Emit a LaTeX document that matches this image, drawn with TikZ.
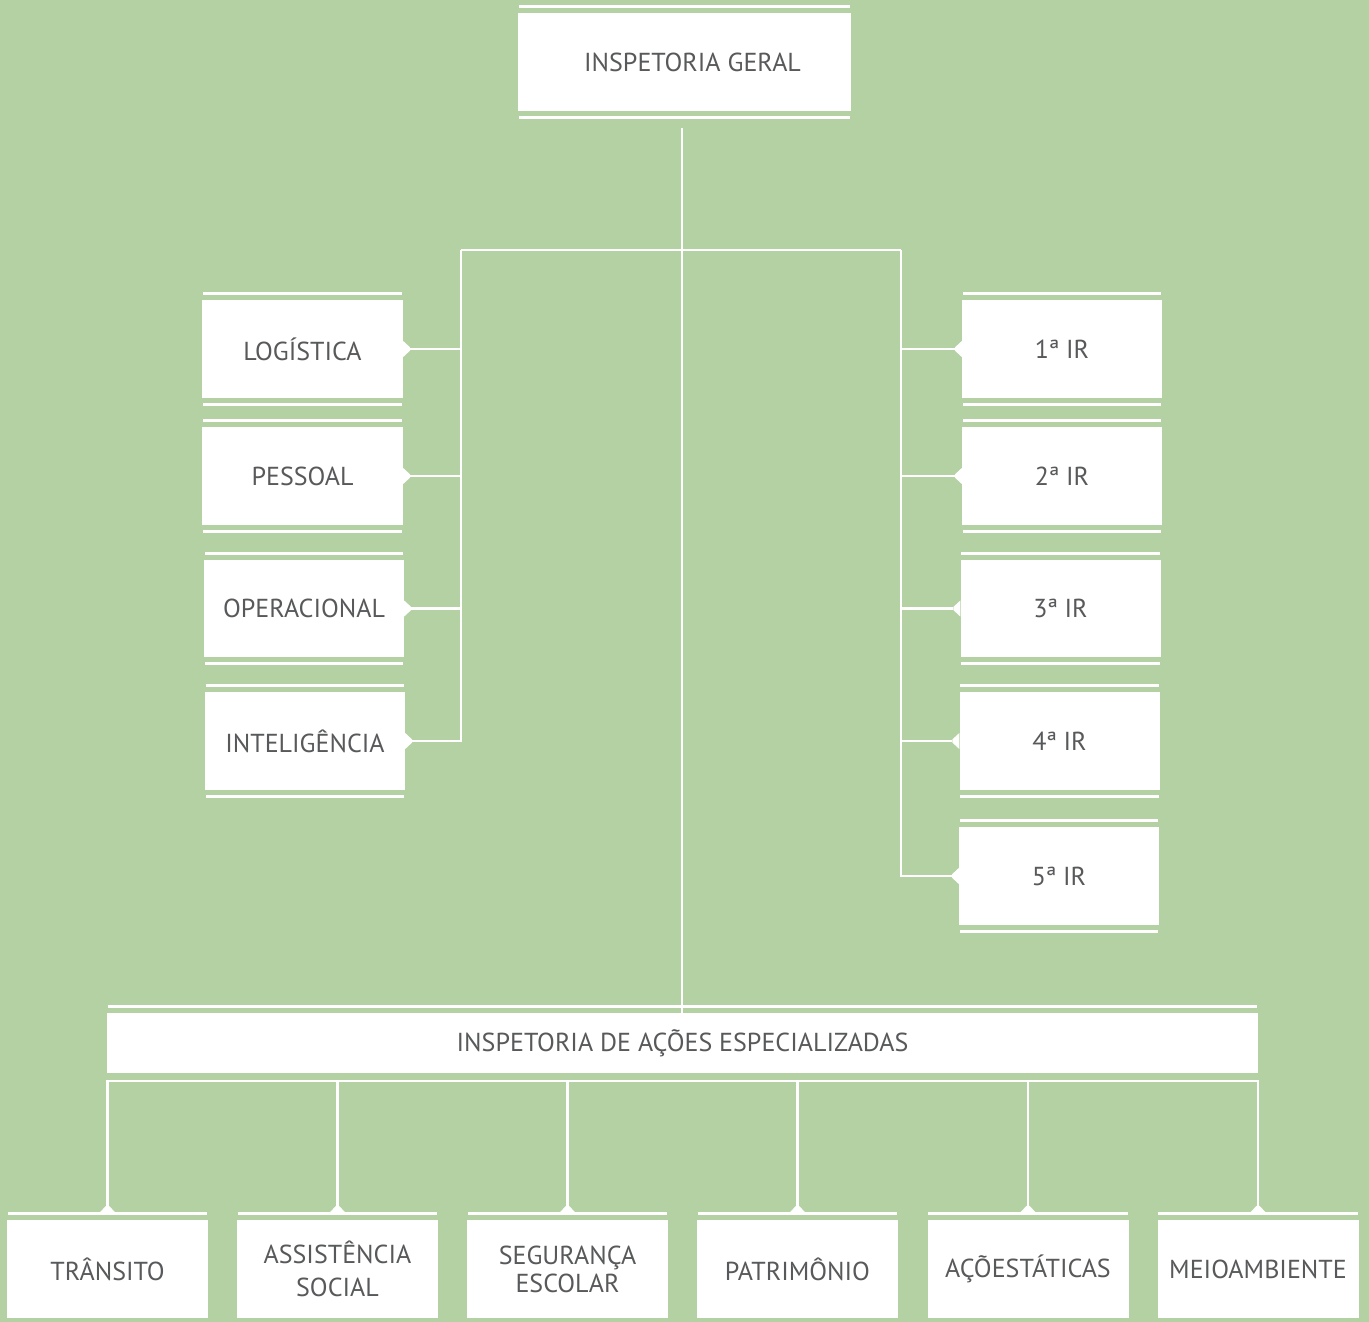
\documentclass[tikz,border=0pt]{standalone}
\usepackage{fontspec}
\setmainfont{PT Sans}
\definecolor{bg}{RGB}{180,209,163}
\definecolor{txt}{RGB}{88,89,91}
\begin{document}
\begin{tikzpicture}[x=1pt,y=-1pt,
  box/.style={fill=white, inner sep=0pt, minimum width=200pt, minimum height=98pt,
    text=txt, font=\fontsize{26}{30}\selectfont, align=center},
  rule/.style={draw=white, line width=3pt},
  conn/.style={draw=white, line width=2.5pt}]
\useasboundingbox (0,0) rectangle (1369,1322);
\fill[bg] (0,0) rectangle (1369,1322);

% boxes
\node[box, minimum width=333pt] (ig) at (684.5,62) {\hspace*{16pt}INSPETORIA GERAL};
\node[box, minimum width=201pt] (lg) at (302.5,349) {LOGÍSTICA};
\node[box, minimum width=201pt] (ps) at (302.5,476) {PESSOAL};
\node[box, minimum height=97pt] (op) at (304,608.5) {OPERACIONAL};
\node[box] (it) at (305,741) {\raisebox{-2pt}{INTELIGÊNCIA}};
\node[box] (r1) at (1062,349) {\raisebox{-3pt}{1ª IR}};
\node[box] (r2) at (1062,476) {\raisebox{-4pt}{2ª IR}};
\node[box, minimum height=97pt] (r3) at (1060.5,608.5) {\raisebox{-5pt}{3ª IR}};
\node[box] (r4) at (1059.5,741) {\raisebox{-3pt}{4ª IR}};
\node[box] (r5) at (1059,876) {\raisebox{-2pt}{5ª IR}};
\node[box, minimum width=1151pt, minimum height=60pt] (iae) at (682.5,1043) {INSPETORIA DE AÇÕES ESPECIALIZADAS};
\node[box, minimum width=201pt] (b1) at (107.5,1269) {\raisebox{-4pt}{TRÂNSITO}};
\node[box, minimum width=201pt] (b2) at (337.5,1269) {ASSISTÊNCIA\\[3pt]SOCIAL};
\node[box, minimum width=201pt] (b3) at (567.5,1269) {SEGURANÇA\\[-2pt]ESCOLAR};
\node[box, minimum width=201pt] (b4) at (797.5,1269) {PATRIMÔNIO};
\node[box, minimum width=201pt] (b5) at (1028,1269) {AÇÕESTÁTICAS};
\node[box, minimum width=201pt] (b6) at (1258,1269) {MEIOAMBIENTE};

% rules above and below boxes
\foreach \n in {ig,lg,ps,op,it,r1,r2,r3,r4,r5} {
  \draw[rule] ([shift={(1pt,6pt)}]\n.north west) -- ([shift={(-1pt,6pt)}]\n.north east);
  \draw[rule] ([shift={(1pt,-6pt)}]\n.south west) -- ([shift={(-1pt,-6pt)}]\n.south east);
}
\foreach \n in {iae,b1,b2,b3,b4,b5,b6} {
  \draw[rule] ([shift={(1pt,6pt)}]\n.north west) -- ([shift={(-1pt,6pt)}]\n.north east);
}

% notches
\foreach \n in {lg,ps,op,it}
  \fill[white] ([yshift=8pt]\n.east) -- ([shift={(7pt,1.5pt)}]\n.east) -- ([shift={(7pt,-1.5pt)}]\n.east) -- ([yshift=-8pt]\n.east) -- cycle;
\foreach \n in {r1,r2,r3,r4,r5}
  \fill[white] ([yshift=8pt]\n.west) -- ([shift={(-7pt,1.5pt)}]\n.west) -- ([shift={(-7pt,-1.5pt)}]\n.west) -- ([yshift=-8pt]\n.west) -- cycle;
\foreach \n in {b1,b2,b3,b4,b5,b6}
  \fill[white] ([shift={(-9pt,6pt)}]\n.north) -- ([shift={(-1.5pt,14pt)}]\n.north) -- ([shift={(1.5pt,14pt)}]\n.north) -- ([shift={(9pt,6pt)}]\n.north) -- cycle;

% connectors
\coordinate (igout) at (682,128);
\coordinate (lbus) at (461,250);
\coordinate (rbus) at (901,250);
\coordinate (bbus) at (0,1081);
\draw[conn] (igout) -- (igout |- iae.north);
\draw[conn] (lbus) -- (rbus);
\foreach \n in {lg,ps,op,it}
  \draw[conn] ([xshift=7pt]\n.east) -| (lbus);
\foreach \n in {r1,r2,r3,r4,r5}
  \draw[conn] ([xshift=-7pt]\n.west) -| (rbus);
\draw[conn, line cap=rect] (b1.north |- bbus) -- (b6.north |- bbus);
\foreach \n in {b1,b2,b3,b4,b5,b6}
  \draw[conn] ([yshift=14pt]\n.north) -- (\n.north |- bbus);
\end{tikzpicture}
\end{document}
